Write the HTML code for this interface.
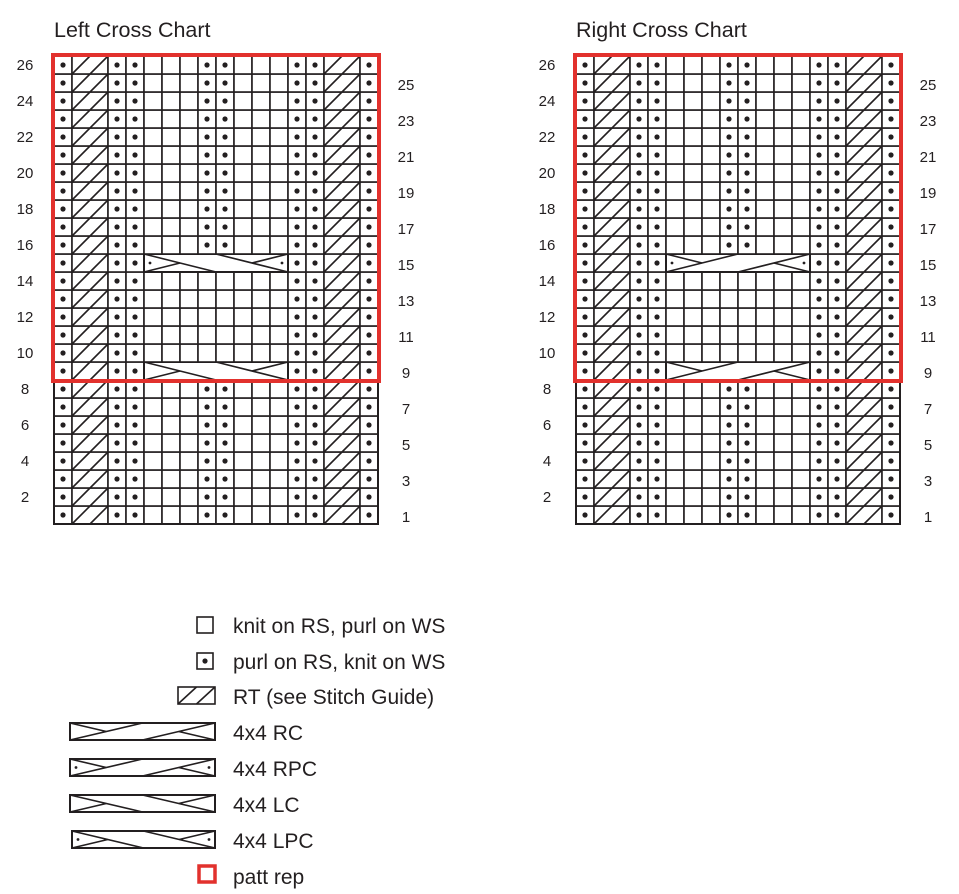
<!DOCTYPE html>
<html><head><meta charset="utf-8">
<style>
html,body{margin:0;padding:0;background:#fff;}
svg{display:block;}
text{font-family:"Liberation Sans",sans-serif;fill:#231f20;}
</style></head>
<body>
<svg id="s" width="959" height="894" viewBox="0 0 959 894" xmlns="http://www.w3.org/2000/svg"></svg>
<script>
const S=document.getElementById('s');
let out='';
const C=18,R=18;
function line(x1,y1,x2,y2,w){out+=`<line x1="${x1}" y1="${y1}" x2="${x2}" y2="${y2}" stroke="#231f20" stroke-width="${w||1.6}"/>`;}
function dot(x,y){out+=`<circle cx="${x}" cy="${y}" r="2.6" fill="#231f20"/>`;}
function rect(x,y,w,h,sw,col){out+=`<rect x="${x}" y="${y}" width="${w}" height="${h}" fill="#fff" stroke="${col||'#231f20'}" stroke-width="${sw||1.6}"/>`;}
function txt(x,y,s,fs,anchor){out+=`<text x="${x}" y="${y}" font-size="${fs}" ${anchor?'text-anchor="'+anchor+'"':''}>${s}</text>`;}
function cable(x,y,w,h,left,pc){
  rect(x,y,w,h,2);
  if(left){
    line(x,y,x+w/2,y+h);line(x+w/2,y,x+w,y+h);
    line(x,y+h,x+w/4,y+h/2);line(x+w,y,x+3*w/4,y+h/2);
  }else{
    line(x,y+h,x+w/2,y);line(x+w/2,y+h,x+w,y);
    line(x,y,x+w/4,y+h/2);line(x+w,y+h,x+3*w/4,y+h/2);
  }
  if(pc){out+=`<circle cx="${x+6}" cy="${y+h/2}" r="1.4" fill="#231f20"/><circle cx="${x+w-6}" cy="${y+h/2}" r="1.4" fill="#231f20"/>`;}
}
function rt(x,y,w,h){line(x,y+h,x+w/2,y);line(x+w/2,y+h,x+w,y);}
function chart(X,left,title,labL,labR){
  const Y=56;
  txt(X,37,title,21.5);
  const types=['P','T','t','P','P','K','K','K','P','P','K','K','K','P','P','T','t','P'];
  for(let r=1;r<=26;r++){
    const y=Y+(26-r)*R;
    for(let c=0;c<18;c++){
      const x=X+c*C;
      let t=types[c];
      if((c==8||c==9)&&r>=10&&r<=14)t='K';
      if((r==9||r==15)&&c>=5&&c<=12)continue;
      if(t=='t')continue;
      if(t=='T'){rect(x,y,2*C,R);rt(x,y,2*C,R);continue;}
      rect(x,y,C,R);
      if(t=='P')dot(x+C/2,y+R/2);
    }
    if(r==9||r==15){cable(X+5*C,y,8*C,R,left,r==15);}
  }
  out+=`<rect x="${X}" y="${Y}" width="${18*C}" height="${26*R}" fill="none" stroke="#231f20" stroke-width="2"/>`;
  out+=`<rect x="${X-1}" y="${Y-1}" width="${18*C+2}" height="${18*R+2}" fill="none" stroke="#e2312d" stroke-width="4"/>`;
  for(let r=1;r<=26;r++){
    const y=Y+(26-r)*R+R/2+5;
    if(r%2==0)txt(labL,y,r,15,'middle');else txt(labR,y+2,r,15,'middle');
  }
}
chart(54,true,'Left Cross Chart',25,406);
chart(576,false,'Right Cross Chart',547,928);
rect(197,617,16,16);
txt(233,633,'knit on RS, purl on WS',21);
rect(197,653,16,16);dot(205,661);
txt(233,669,'purl on RS, knit on WS',21);
rect(178,687,37,17);rt(178,687,37,17);
txt(233,704,'RT (see Stitch Guide)',21);
cable(70,723,145,17,false,false);txt(233,740,'4x4 RC',21);
cable(70,759,145,17,false,true);txt(233,776,'4x4 RPC',21);
cable(70,795,145,17,true,false);txt(233,812,'4x4 LC',21);
cable(72,831,143,17,true,true);txt(233,848,'4x4 LPC',21);
out+=`<rect x="199" y="866" width="16" height="16" fill="none" stroke="#e2312d" stroke-width="3.5"/>`;
txt(233,884,'patt rep',21);
S.innerHTML=out;
</script>
</body></html>
